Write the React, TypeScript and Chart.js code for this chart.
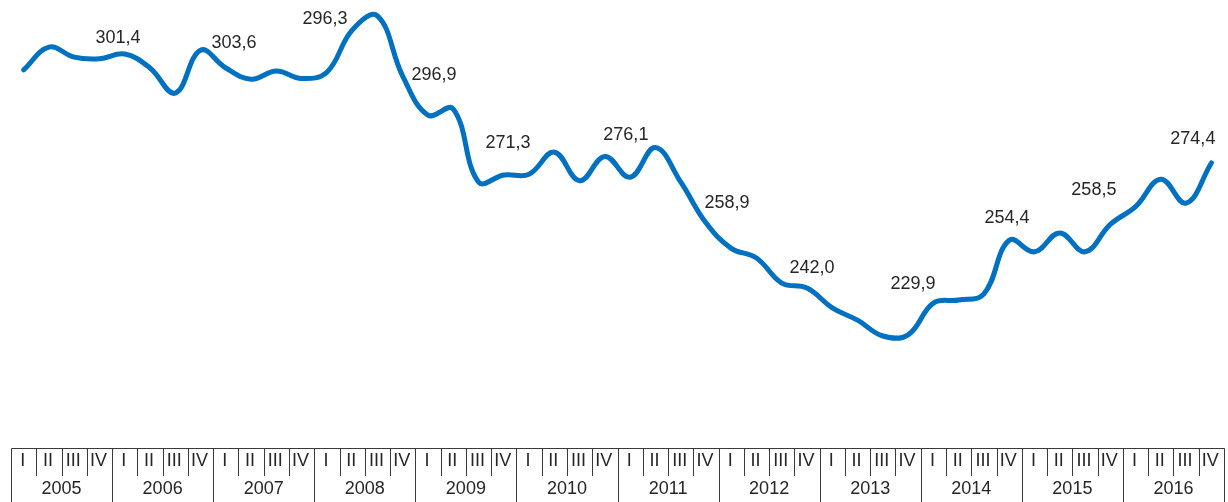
import React, { useEffect, useRef } from "react";
import { Chart, registerables } from "chart.js";

Chart.register(...registerables);

// ---- data ----
const years = ["2005", "2006", "2007", "2008", "2009", "2010", "2011", "2012", "2013", "2014", "2015", "2016"];
const quarters = ["I", "II", "III", "IV"];

const values2005 = [298.5, 304.4, 301.8, 301.4];
const values2006 = [302.6, 299.0, 292.5, 303.6];
const values2007 = [299.0, 296.1, 298.2, 296.3];
const values2008 = [297.9, 308.8, 312.5, 296.9];
const values2009 = [286.8, 288.4, 269.5, 271.3];
const values2010 = [271.5, 277.2, 269.8, 276.1];
const values2011 = [270.7, 278.4, 269.5, 258.9];
const values2012 = [252.3, 249.8, 243.3, 242.0];
const values2013 = [236.9, 233.7, 229.6, 229.9];
const values2014 = [238.1, 238.9, 240.5, 254.4];
const values2015 = [251.4, 256.3, 251.4, 258.5];
const values2016 = [263.1, 270.2, 264.0, 274.4];

const values = [
  ...values2005, ...values2006, ...values2007, ...values2008,
  ...values2009, ...values2010, ...values2011, ...values2012,
  ...values2013, ...values2014, ...values2015, ...values2016,
];

// which quarter gets a value label (the IV quarter of each year)
const labelledQuarter = "IV";

// ---- styles ----
const LINE_COLOR = "#0070C0";
const TEXT_COLOR = "#262626";
const AXIS_COLOR = "#3a3a3a";
const FONT = "18px 'Liberation Sans', Arial, sans-serif";
// pixel offsets of each year's label from its labelled point
const labelOffsets: [number, number][] = [
  [18.6, -20.7], [33.5, -7], [23.4, -59.4], [31.3, -1],
  [4.2, -32], [21, -21.4], [21, -19.8], [4.9, -20],
  [4.8, -50.8], [-2.3, -22.5], [-16.4, -34.4], [-18.5, -23.5],
];

const fmt = (v: number) => v.toFixed(1).replace(".", ",");

const axisTablePlugin = {
  id: "axisTable",
  afterDraw(chart: any) {
    const { ctx, chartArea } = chart;
    const xs = chart.scales.x;
    const top = chartArea.bottom;
    const bottom = chart.height;
    const n = years.length * quarters.length;
    const px = (v: number) => Math.round(xs.getPixelForValue(v)) + 0.5;
    ctx.save();
    ctx.strokeStyle = AXIS_COLOR;
    ctx.lineWidth = 1;
    ctx.beginPath();
    const yTop = Math.round(top) + 0.5;
    ctx.moveTo(px(-0.5), yTop);
    ctx.lineTo(px(n - 0.5), yTop);
    for (let k = 0; k <= n; k++) {
      const x = px(k - 0.5);
      ctx.moveTo(x, yTop);
      ctx.lineTo(x, k % quarters.length === 0 ? bottom : top + 28);
    }
    ctx.stroke();

    ctx.fillStyle = TEXT_COLOR;
    ctx.font = FONT;
    ctx.textAlign = "center";
    ctx.textBaseline = "middle";
    for (let k = 0; k < n; k++) {
      ctx.fillText(quarters[k % quarters.length], xs.getPixelForValue(k) - 1, top + 13.5);
    }
    years.forEach((yr, i) => {
      const c = i * quarters.length + (quarters.length - 1) / 2;
      ctx.fillText(yr, xs.getPixelForValue(c), top + 41);
    });
    ctx.restore();
  },
};

const valueLabelPlugin = {
  id: "valueLabels",
  afterDatasetsDraw(chart: any) {
    const { ctx } = chart;
    const meta = chart.getDatasetMeta(0);
    const qi = quarters.indexOf(labelledQuarter);
    ctx.save();
    ctx.fillStyle = TEXT_COLOR;
    ctx.font = FONT;
    ctx.textAlign = "center";
    ctx.textBaseline = "middle";
    years.forEach((_, yi) => {
      const idx = yi * quarters.length + qi;
      const pt = meta.data[idx];
      const [dx, dy] = labelOffsets[yi];
      ctx.fillText(fmt(values[idx]), pt.x + dx, pt.y + dy);
    });
    ctx.restore();
  },
};

export default function App() {
  const canvasRef = useRef<HTMLCanvasElement | null>(null);

  useEffect(() => {
    if (!canvasRef.current) return;
    const chart = new Chart(canvasRef.current, {
      type: "line",
      data: {
        datasets: [
          {
            data: values.map((v, i) => ({ x: i, y: v })),
            borderColor: LINE_COLOR,
            borderWidth: 5,
            pointRadius: 0,
            tension: 0.4,
            fill: false,
            clip: 10,
            borderCapStyle: "round",
            borderJoinStyle: "round",
          } as any,
        ],
      },
      options: {
        responsive: false,
        animation: false,
        devicePixelRatio: 1,
        layout: { padding: { left: 11, right: 4, top: 0, bottom: 54 } },
        plugins: { legend: { display: false }, tooltip: { enabled: false } },
        scales: {
          x: { type: "linear", min: -0.5, max: values.length - 0.5, display: false },
          y: { type: "linear", min: 200.6, max: 316.6, display: false },
        },
      },
      plugins: [axisTablePlugin, valueLabelPlugin],
    });
    return () => chart.destroy();
  }, []);

  return (
    <div style={{ position: "absolute", left: 0, top: 0, width: 1228, height: 502, background: "#fff" }}>
      <canvas ref={canvasRef} width={1228} height={502} style={{ display: "block" }} />
    </div>
  );
}
